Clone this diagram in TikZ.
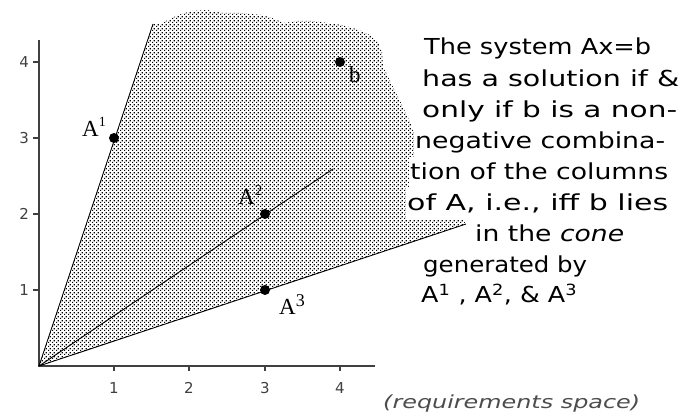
\documentclass[tikz,border=0pt]{standalone}
\usepackage{fontspec}
\usepackage{graphicx}
\setmainfont{Liberation Serif}
\newfontfamily\gen{DejaVu Sans}
\usetikzlibrary{patterns.meta}
\tikzdeclarepattern{
  name=finedots, type=uncolored,
  bottom left={(0pt,0pt)}, top right={(4pt,4pt)}, tile size={(4pt,4pt)},
  code={\fill (0pt,0pt) rectangle (1.5pt,1.5pt); \fill (2pt,2pt) rectangle (3.5pt,3.5pt);}
}
\newcommand{\fitw}[2]{\resizebox{#1}{\height}{#2}}
\begin{document}
\begin{tikzpicture}[x=1pt,y=-1pt,
  txt/.style={font=\gen\fontsize{22}{26}\selectfont, anchor=base west, inner xsep=1pt, inner ysep=0pt, fill=white, text height=22pt, text depth=9pt},
  lab/.style={font=\fontsize{23}{26}\selectfont, anchor=base west, inner sep=0pt},
  ticklab/.style={font=\gen\fontsize{15}{18}\selectfont, text=black!75, inner sep=0pt},
  pt/.style={circle, fill=black, inner sep=0pt, minimum size=10pt},
  ray/.style={line width=0.9pt},
  axis/.style={line width=1.3pt, draw=black!75},
  tickmark/.style={line width=1.1pt, draw=black!75}]
\useasboundingbox (0,0) rectangle (680,419);
% cone region
\fill[pattern={finedots}, pattern color=black]
  (39,366) -- (153,24) -- (160,24) -- (168,20) -- (178,15) -- (192,11) -- (207,10)
  -- (222,13) -- (240,13) -- (262,15) -- (275,19) -- (283,23) -- (298,21) -- (313,21)
  -- (328,23) -- (342,25) -- (356,29) -- (368,34) -- (378,42) -- (382,52) -- (383,66)
  -- (392,85) -- (402,105) -- (410,122) -- (420,150) -- (440,190) -- (466,224) -- cycle;
% axes
\coordinate (O) at (39,366);
\coordinate (Ytop) at (39,40);
\coordinate (Xend) at (375,366);
\draw[axis] (Ytop) -- (O) -- (Xend);
\foreach \i/\yy in {1/290,2/214,3/138,4/62} {
  \draw[tickmark] (33,\yy) -- (39,\yy);
  \node[ticklab, anchor=east] (yl\i) at (29,\yy) {\i};
}
\foreach \i/\xx in {1/114,2/189,3/265,4/340} {
  \draw[tickmark] (\xx,366) -- (\xx,371);
  \node[ticklab] (xl\i) at (\xx,388) {\i};
}
% rays
\coordinate (E1) at (153,24);
\coordinate (E2) at (333,169);
\coordinate (E3) at (466,224);
\draw[ray] (O) -- (E1);
\draw[ray] (O) -- (E2);
\draw[ray] (O) -- (E3);
% points
\node[pt] (A1) at (114,138) {};
\node[pt] (A2) at (265,214) {};
\node[pt] (A3) at (265,290) {};
\node[pt] (B) at (340,62) {};
% labels
\node[lab] (la1) at (82,137) {A\raisebox{10pt}{\fontsize{14}{14}\selectfont 1}};
\node[lab] (la2) at (238,205) {A\raisebox{9pt}{\fontsize{15}{15}\selectfont 2}};
\node[lab] (la3) at (279,315) {A\raisebox{8pt}{\fontsize{18}{18}\selectfont 3}};
\node[lab] (lb) at (349,83) {b};
% text block
\node[txt] (t1) at (423,55)   {\fitw{227pt}{The system Ax=b}};
\node[txt] (t2) at (421,86.1) {\fitw{257pt}{has a solution if \&}};
\node[txt] (t3) at (421,117.2){\fitw{255pt}{only if b is a non-}};
\node[txt] (t4) at (414,148.3){\fitw{250pt}{negative combina-}};
\node[txt] (t5) at (409,179.4){\fitw{258pt}{tion of the columns}};
\node[txt] (t6) at (406,210.5){\fitw{261pt}{of A, i.e., iff b lies}};
\node[txt] (t7) at (474,241.6){\fitw{149pt}{in the {\itshape cone}}};
\node[txt] (t8) at (422,272.7){\fitw{164pt}{generated by}};
\node[txt] (t9) at (420,302.8){\fitw{156pt}{A\textsuperscript{1} , A\textsuperscript{2}, \& A\textsuperscript{3}}};
% caption
\node[font=\gen\itshape\fontsize{18}{20}\selectfont, text=black!70, anchor=base west, inner sep=0pt] (cap) at (383,409) {\fitw{257pt}{(requirements space)}};
\end{tikzpicture}
\end{document}
